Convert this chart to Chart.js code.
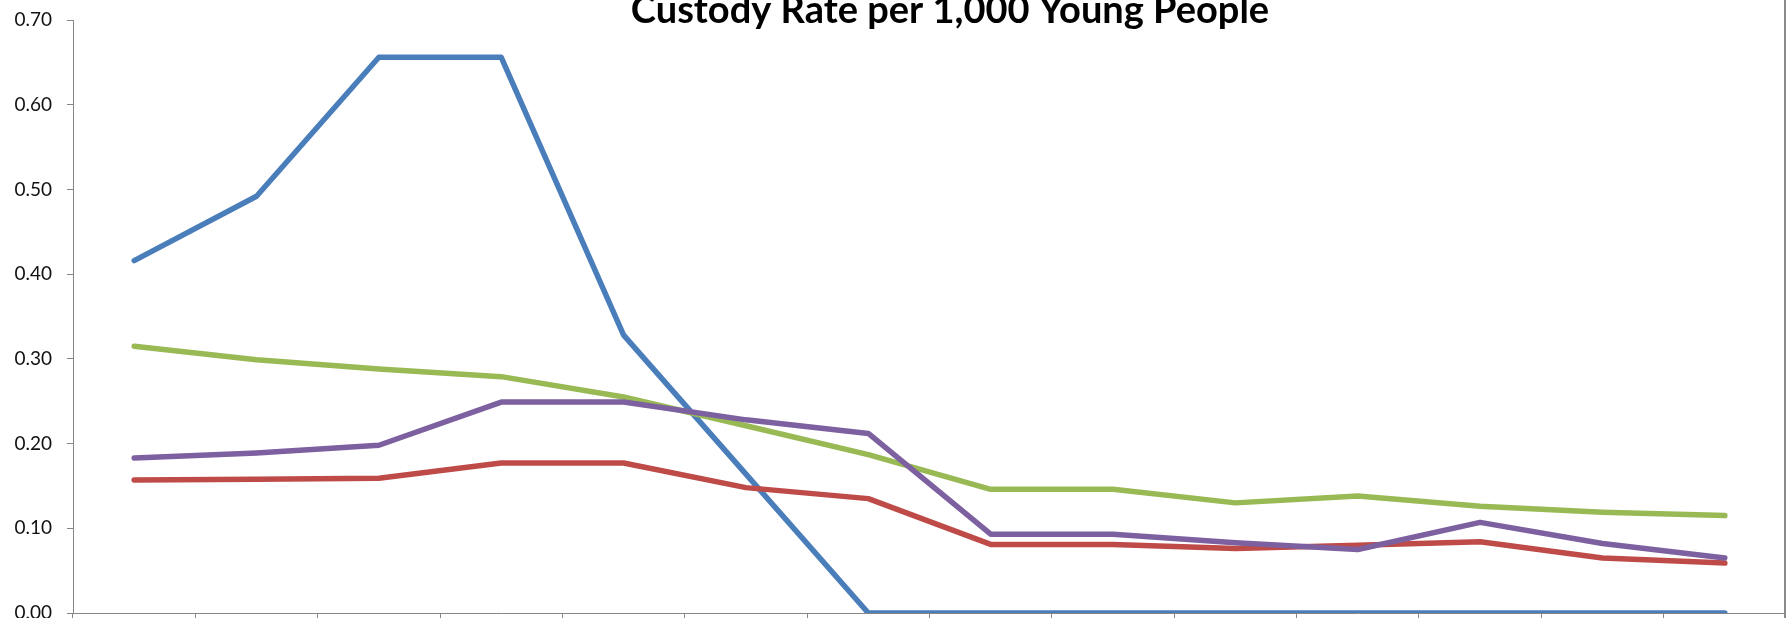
<!DOCTYPE html>
<html>
<head>
<meta charset="utf-8">
<title>Custody Rate per 1,000 Young People</title>
<script src="https://cdn.jsdelivr.net/npm/chart.js@4/dist/chart.umd.min.js"></script>
<style>
    html, body { margin: 0; padding: 0; background: #fff; overflow: hidden; }
    #wrap { position: relative; width: 1786px; height: 618px; }
    #wrap::after { content: ''; position: absolute; right: 0; top: 0; bottom: 0; border-right: 2px solid #8a8a8a; }
</style>
</head>
<body>
<div id="wrap"><canvas id="lineChart" width="1786" height="618"></canvas></div>
<script>
// Periodos (las etiquetas del eje X quedan fuera del recorte)
const periodos = ['1', '2', '3', '4', '5', '6', '7', '8', '9', '10', '11', '12', '13', '14'];

// Tasas por serie
const serieAzul = [0.416, 0.492, 0.656, 0.656, 0.328, 0.164, 0, 0, 0, 0, 0, 0, 0, 0];
const serieRoja = [0.157, 0.158, 0.159, 0.177, 0.177, 0.148, 0.135, 0.081, 0.081, 0.076, 0.080, 0.084, 0.065, 0.059];
const serieVerde = [0.315, 0.299, 0.288, 0.279, 0.255, 0.221, 0.187, 0.146, 0.146, 0.130, 0.138, 0.126, 0.119, 0.115];
const serieMorada = [0.183, 0.189, 0.198, 0.249, 0.249, 0.228, 0.212, 0.093, 0.093, 0.083, 0.075, 0.107, 0.082, 0.065];

// Marcas del eje Y
const ticksY = [0, 0.1, 0.2, 0.3, 0.4, 0.5, 0.6, 0.7];

const titulo = 'Custody Rate per 1,000 Young People';
const gris = '#868686';

// Titulo dibujado a mano (en el original no esta centrado en el lienzo)
const tituloPlugin = {
    id: 'tituloPlugin',
    afterDraw(chart) {
        const ctx = chart.ctx;
        ctx.save();
        ctx.font = 'bold 38px Lato';
        ctx.fillStyle = '#000';
        ctx.textAlign = 'center';
        ctx.textBaseline = 'alphabetic';
        ctx.fillText(titulo, 950, 23);
        ctx.restore();
    }
};

function linea(label, data, color, order) {
    return {
        label: label,
        data: data,
        borderColor: color,
        backgroundColor: color,
        borderWidth: 5.5,
        borderCapStyle: 'round',
        borderJoinStyle: 'round',
        pointRadius: 0,
        tension: 0,
        fill: false,
        order: order
    };
}

new Chart(document.getElementById('lineChart').getContext('2d'), {
    type: 'line',
    data: {
        labels: periodos,
        datasets: [
            linea('Serie 1', serieAzul, '#4a7ebb', 3),
            linea('Serie 2', serieRoja, '#be4b48', 2),
            linea('Serie 3', serieVerde, '#98b954', 1),
            linea('Serie 4', serieMorada, '#7d60a0', 0)
        ]
    },
    options: {
        responsive: false,
        animation: false,
        layout: { padding: { top: 20, right: 0, bottom: 0, left: 0 } },
        plugins: {
            legend: { display: false },
            title: { display: false },
            tooltip: { enabled: false }
        },
        scales: {
            x: {
                offset: true,
                afterFit: s => { s.height = 5; s.paddingLeft = 0; s.paddingRight = 0; },
                grid: { offset: true, drawOnChartArea: false, drawTicks: true, tickLength: 5, color: gris, lineWidth: 1 },
                border: { display: true, color: gris, width: 1 },
                ticks: { display: false }
            },
            y: {
                min: 0,
                max: 0.7,
                afterFit: s => { s.width = 73; s.paddingTop = 0; s.paddingBottom = 0; },
                afterBuildTicks: s => { s.ticks = ticksY.map(v => ({ value: v })); },
                grid: { drawOnChartArea: false, drawTicks: true, tickLength: 6, color: gris, lineWidth: 1 },
                border: { display: true, color: gris, width: 1 },
                ticks: {
                    padding: 15,
                    color: '#111',
                    font: { family: 'Lato', size: 19 },
                    callback: v => Number(v).toFixed(2)
                }
            }
        }
    },
    plugins: [tituloPlugin]
});
</script>
</body>
</html>
